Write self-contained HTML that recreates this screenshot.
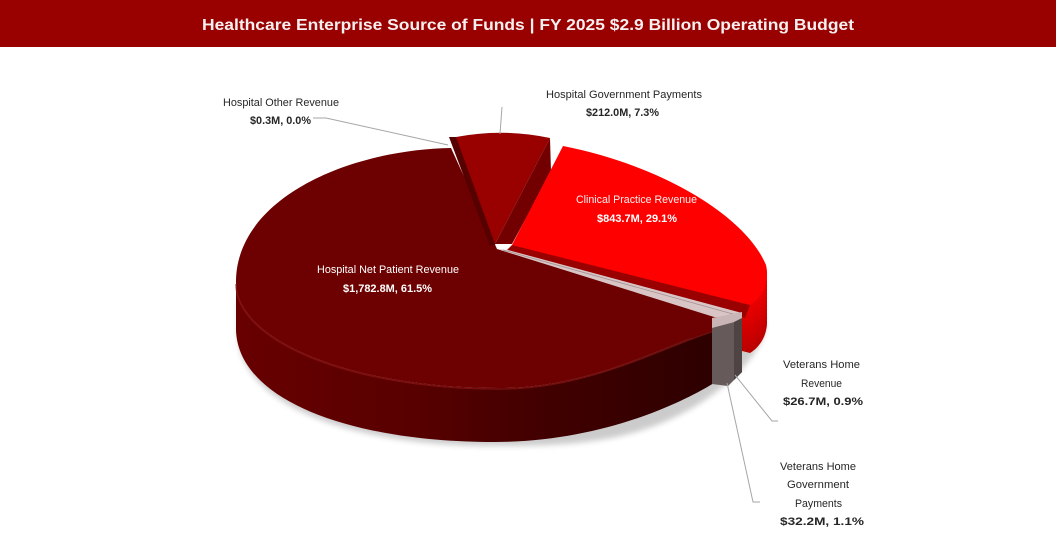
<!DOCTYPE html>
<html>
<head>
<meta charset="utf-8">
<style>
  html, body { margin:0; padding:0; background:#ffffff; }
  body { width:1056px; height:557px; overflow:hidden; }
  svg { display:block; }
  text { font-family: "Liberation Sans", "DejaVu Sans", sans-serif; }
</style>
</head>
<body>
<svg width="1056" height="557" viewBox="0 0 1056 557" xmlns="http://www.w3.org/2000/svg" xmlns:xlink="http://www.w3.org/1999/xlink">
  <defs>
    <linearGradient id="mainSide" x1="236" y1="0" x2="742" y2="0" gradientUnits="userSpaceOnUse">
      <stop offset="0" stop-color="#680000"/>
      <stop offset="0.35" stop-color="#580000"/>
      <stop offset="0.6" stop-color="#420000"/>
      <stop offset="1" stop-color="#2a0000"/>
    </linearGradient>
    <filter id="blur" x="-20%" y="-20%" width="140%" height="140%">
      <feGaussianBlur stdDeviation="3"/>
    </filter>
    <path id="clin" d="M 512 245 L 563 146 C 660 165 745 215 766 265 C 770 282 762 298 750 305 Z"/>
  </defs>

  <!-- Title bar -->
  <rect x="0" y="0" width="1056" height="47" fill="#990000"/>
  <text x="202" y="30" font-size="16" font-weight="bold" fill="#f7f0f0" textLength="652" lengthAdjust="spacingAndGlyphs">Healthcare Enterprise Source of Funds | FY 2025 $2.9 Billion Operating Budget</text>

  <!-- shadow -->
  <path d="M 765 330 C 760 360 700 425 600 440 C 560 446 530 446 495 446 C 350 446 240 405 238 335 L 238 300 C 300 380 600 400 760 300 Z" fill="#000" opacity="0.2" filter="url(#blur)"/>

  <!-- Clinical side (extruded stack) -->
  <g fill="#d20000">
    <use xlink:href="#clin" transform="translate(0,48)" fill="#bb0000"/>
    <use xlink:href="#clin" transform="translate(0,44)" fill="#c00000"/>
    <use xlink:href="#clin" transform="translate(0,40)" fill="#c40000"/>
    <use xlink:href="#clin" transform="translate(0,36)" fill="#c80000"/>
    <use xlink:href="#clin" transform="translate(0,32)" fill="#cc0000"/>
    <use xlink:href="#clin" transform="translate(0,28)" fill="#d00000"/>
    <use xlink:href="#clin" transform="translate(0,24)" fill="#d40000"/>
    <use xlink:href="#clin" transform="translate(0,20)" fill="#d80000"/>
    <use xlink:href="#clin" transform="translate(0,16)" fill="#dc0000"/>
    <use xlink:href="#clin" transform="translate(0,12)" fill="#e00000"/>
    <use xlink:href="#clin" transform="translate(0,8)" fill="#e40000"/>
    <use xlink:href="#clin" transform="translate(0,4)" fill="#e60000"/>
    <use xlink:href="#clin" transform="translate(0,2)" fill="#e60000"/>
  </g>

  <!-- Main slice side -->
  <path d="M 236 282 C 236 340 350 388 500 388 C 590 388 665 345 714 330 L 714 383 C 670 410 590 442 495 442 C 350 442 238 400 236 330 Z" fill="url(#mainSide)"/>

  <!-- Main slice top -->
  <path d="M 497 249 L 451 148 C 345 150 236 200 236 282 C 236 340 350 388 500 388 C 590 388 665 345 714 330 L 714 314 Z" fill="#6d0000"/>
  <path d="M 236 284 C 236 341 350 389 500 389 C 590 389 665 346 714 331" fill="none" stroke="#8c1414" stroke-width="1.5" opacity="0.7"/>

  <!-- Hospital Government slice (exploded) -->
  <polygon points="449,137 457,137 496,244 490,246" fill="#560000"/>
  <path d="M 456 137 Q 503 128 550 138 L 495 244 Z" fill="#990000"/>
  <polygon points="550,138 551,172 512,244 495,244" fill="#730000"/>

  <!-- Clinical cut face + top -->
  <polygon points="512,245 750,305 745,318 505,252" fill="#9a0000"/>
  <use xlink:href="#clin" fill="#ff0000"/>

  <!-- Veterans slices -->
  <polygon points="508,250 742,313 742,319 714,317 497,249" fill="#d9c5c5"/>
  <line x1="503" y1="250" x2="740" y2="316" stroke="#a59090" stroke-width="0.8"/>
  <polygon points="712,326 738,320 742,318 742,372 728,386 712,384" fill="#675a5a"/>
  <polygon points="712,318 742,312 742,320 712,328" fill="#c9b5b5"/>
  <polygon points="734,322 742,318 742,372 734,380" fill="#4f4444"/>

  <!-- Leader lines -->
  <g stroke="#a6a6a6" stroke-width="1" fill="none">
    <polyline points="313,118 326,118 448,145"/>
    <line x1="502" y1="107" x2="500" y2="134"/>
    <polyline points="735,375 772,421 778,421"/>
    <polyline points="727,383 753,502 760,502"/>
  </g>

  <!-- Labels -->
  <g fill="#262626" font-size="11">
    <text x="223" y="106" textLength="116" lengthAdjust="spacingAndGlyphs">Hospital Other Revenue</text>
    <text x="250" y="124" font-weight="bold" textLength="61" lengthAdjust="spacingAndGlyphs">$0.3M, 0.0%</text>

    <text x="546" y="98" textLength="156" lengthAdjust="spacingAndGlyphs">Hospital Government Payments</text>
    <text x="586" y="116" font-weight="bold" textLength="73" lengthAdjust="spacingAndGlyphs">$212.0M, 7.3%</text>

    <text x="783" y="368" textLength="77" lengthAdjust="spacingAndGlyphs">Veterans Home</text>
    <text x="801" y="387" textLength="41" lengthAdjust="spacingAndGlyphs">Revenue</text>
    <text x="783" y="405" font-weight="bold" textLength="80" lengthAdjust="spacingAndGlyphs">$26.7M, 0.9%</text>

    <text x="780" y="470" textLength="76" lengthAdjust="spacingAndGlyphs">Veterans Home</text>
    <text x="787" y="488" textLength="62" lengthAdjust="spacingAndGlyphs">Government</text>
    <text x="795" y="507" textLength="47" lengthAdjust="spacingAndGlyphs">Payments</text>
    <text x="780" y="525" font-weight="bold" textLength="84" lengthAdjust="spacingAndGlyphs">$32.2M, 1.1%</text>
  </g>
  <g fill="#ffffff" font-size="11">
    <text x="576" y="203" fill="#fff0f0" textLength="121" lengthAdjust="spacingAndGlyphs">Clinical Practice Revenue</text>
    <text x="597" y="222" font-weight="bold" textLength="80" lengthAdjust="spacingAndGlyphs">$843.7M, 29.1%</text>
    <text x="317" y="273" textLength="142" lengthAdjust="spacingAndGlyphs">Hospital Net Patient Revenue</text>
    <text x="343" y="292" font-weight="bold" textLength="89" lengthAdjust="spacingAndGlyphs">$1,782.8M, 61.5%</text>
  </g>
</svg>
</body>
</html>
